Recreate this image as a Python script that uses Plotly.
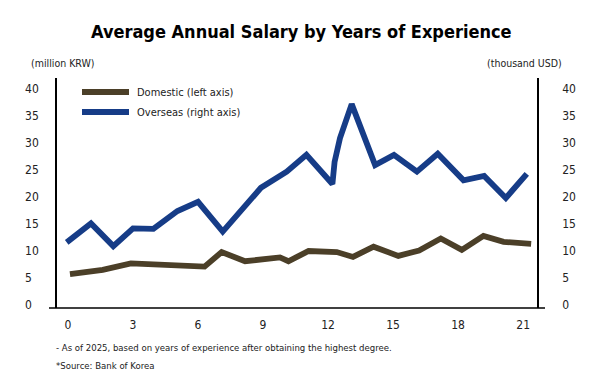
import plotly.graph_objects as go

# ---- data ----
domestic_years = [0.09, 1.6, 2.9, 5.2, 6.3, 7.09, 8.17, 9.78, 10.17, 11.1, 12.4, 13.15,
                  14.1, 15.24, 16.2, 17.2, 18.17, 19.17, 20.1, 21.37]
domestic_values = [5.7, 6.5, 7.7, 7.4, 7.1, 9.8, 8.1, 8.8, 8.1, 10.0, 9.8, 8.9,
                   10.8, 9.1, 10.1, 12.3, 10.2, 12.8, 11.7, 11.3]

overseas_years = [-0.06, 1.06, 2.09, 3.0, 3.94, 5.05, 6.0, 7.14, 8.9, 10.09, 11.0, 12.2,
                  12.3, 12.55, 13.09, 14.17, 15.04, 16.1, 17.06, 18.25, 19.2, 20.2, 21.17]
overseas_values = [11.6, 15.1, 10.9, 14.2, 14.1, 17.4, 19.1, 13.6, 21.7, 24.7, 27.8, 22.4,
                   26.5, 30.9, 37.2, 25.9, 27.8, 24.7, 28.0, 23.1, 23.9, 19.8, 24.3]

x_ticks = [0, 3, 6, 9, 12, 15, 18, 21]
y_ticks = [0, 5, 10, 15, 20, 25, 30, 35, 40]

series_names = ["Domestic (left axis)", "Overseas (right axis)"]
title_text = "Average Annual Salary by Years of Experience"
left_unit = "(million KRW)"
right_unit = "(thousand USD)"
note_text = "- As of 2025, based on years of experience after obtaining the highest degree."
source_text = "*Source: Bank of Korea"

FONT = "Liberation Sans Narrow, DejaVu Sans Condensed, Arial Narrow, sans-serif"
BROWN = "#4b3f28"
BLUE = "#163c87"
TXT = "#222222"
colors = [BROWN, BLUE]

# plot-area geometry (pixels)
L, R, T, B = 57, 53, 78, 82
W, H = 590, 390
PW, PH = W - L - R, H - T - B


def px(xpix):
    return (xpix - L) / PW


def py(ypix):
    return (H - B - ypix) / PH


fig = go.Figure()
fig.add_trace(go.Scatter(
    x=domestic_years, y=domestic_values, mode="lines", name=series_names[0],
    line=dict(color=colors[0], width=5.8), yaxis="y", showlegend=False))
fig.add_trace(go.Scatter(
    x=overseas_years, y=overseas_values, mode="lines", name=series_names[1],
    line=dict(color=colors[1], width=5.8), yaxis="y2", showlegend=False))

yr = [-0.56, 42.04]
fig.update_layout(
    width=W, height=H,
    margin=dict(l=L, r=R, t=T, b=B),
    paper_bgcolor="white", plot_bgcolor="white",
    font=dict(family=FONT, size=12, color=TXT),
    showlegend=False,
    xaxis=dict(range=[-0.508, 21.64], tickvals=x_ticks, ticktext=[str(v) for v in x_ticks],
               showgrid=False, zeroline=False, showline=False, ticks="",
               ticklabelstandoff=8, tickfont=dict(size=12)),
    yaxis=dict(range=yr, tickvals=y_ticks,
               ticktext=[(str(v) + "\u2007") if v < 10 else str(v) for v in y_ticks],
               showgrid=False, zeroline=False, showline=True, linecolor="black", linewidth=1.5,
               ticks="", ticklabelstandoff=14, tickfont=dict(size=12)),
    yaxis2=dict(range=yr, tickvals=y_ticks, ticktext=[str(v) for v in y_ticks],
                overlaying="y", side="right",
                showgrid=False, zeroline=False, showline=True, linecolor="black", linewidth=1.5,
                ticks="", ticklabelstandoff=21, tickfont=dict(size=12)),
)

# x-axis baseline extending slightly past both vertical axes
fig.add_shape(type="line", xref="paper", yref="paper", x0=px(49), x1=px(545), y0=0, y1=0,
              line=dict(color="black", width=1.5))

# legend (drawn manually to match the long key lines)
for i, (name, c) in enumerate(zip(series_names, colors)):
    yy = py(92 + 20 * i)
    fig.add_shape(type="line", xref="paper", yref="paper", x0=px(82), x1=px(129),
                  y0=yy, y1=yy, line=dict(color=c, width=6))
    fig.add_annotation(text=name, xref="paper", yref="paper", x=px(135), y=yy,
                       xanchor="left", yanchor="middle", showarrow=False,
                       font=dict(size=11, color=TXT))

fig.add_annotation(text="<b>" + title_text + "</b>", xref="paper", yref="paper",
                   x=px(301), y=py(31), xanchor="center", yanchor="middle", showarrow=False,
                   font=dict(size=18, color="black", family=FONT))
fig.add_annotation(text=left_unit, xref="paper", yref="paper", x=px(29), y=py(63),
                   xanchor="left", yanchor="middle", showarrow=False, font=dict(size=10.5))
fig.add_annotation(text=right_unit, xref="paper", yref="paper", x=px(564), y=py(63),
                   xanchor="right", yanchor="middle", showarrow=False, font=dict(size=10.5))
fig.add_annotation(text=note_text, xref="paper", yref="paper", x=px(54), y=py(347),
                   xanchor="left", yanchor="middle", showarrow=False, font=dict(size=9.5))
fig.add_annotation(text=source_text, xref="paper", yref="paper", x=px(54), y=py(365),
                   xanchor="left", yanchor="middle", showarrow=False, font=dict(size=9.5))

fig.write_html("out.html", config={"displayModeBar": False},
               post_script="document.body.style.margin='0';")
